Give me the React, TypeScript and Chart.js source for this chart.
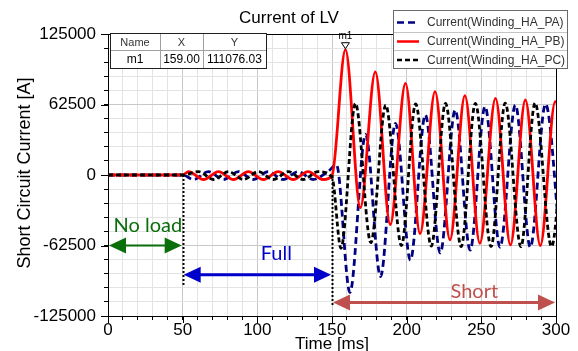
import React, { useEffect, useRef } from 'react';
import { Chart, registerables } from 'chart.js';

Chart.register(...registerables);

// ---- tick labels ----
const xMajorTicks = [0, 50, 100, 150, 200, 250, 300];
const yMajorTicks = [-125000, -62500, 0, 62500, 125000];

// ---- series: Current(Winding_HA_PA) ----
const paTime = [0, 50, 57.3, 67.3, 77.3, 87.3, 97.3, 107.3, 117.3, 127.3, 137.3, 147.3, 153, 162, 172.5, 182.5, 192.5, 202.5, 212.5, 222.5, 232.5, 242.5, 252.5, 262.5, 272.8, 282.8, 293, 303];
const paValue = [0, 0, -4000, 3000, -4000, 3000, -4000, 3000, -4000, 3000, -4000, 3000, 9000, -104000, 36000, -90000, 45800, -75400, 53200, -69100, 57600, -66500, 60600, -64000, 62000, -64000, 63000, -64000];

// ---- series: Current(Winding_HA_PB) ----
const pbTime = [0, 50, 54, 64, 74, 84, 94, 104, 114, 124, 134, 144, 150, 159, 169, 179, 189, 199.2, 209, 219, 229, 239, 249, 259.5, 269.5, 279.5, 289.5, 299.5, 309.5];
const pbValue = [0, 0, 3000, -4000, 3000, -4000, 3000, -4000, 3000, -4000, 3000, -4000, -500, 111076.03, -29000, 91500, -44000, 81300, -52000, 74000, -57500, 70300, -60500, 68000, -62000, 66500, -62500, 65000, -63000];

// ---- series: Current(Winding_HA_PC) ----
const pcTime = [0, 50, 60.7, 70.7, 80.7, 90.7, 100.7, 110.7, 120.7, 130.7, 140.7, 150, 156, 165.7, 176, 186, 196.5, 206, 216.5, 226, 236.5, 246, 256.5, 266, 276.5, 286, 297, 306];
const pcValue = [0, 0, 3000, -4000, 3000, -4000, 3000, -4000, 3000, -4000, 3000, -2000, -65000, 63500, -60000, 62000, -62500, 63000, -63000, 63500, -63500, 63500, -63500, 63800, -63500, 63800, -63500, 63800];

// ---- marker m1 ----
const markerName = 'm1';
const markerX = 159.0;
const markerY = 111076.03;

// ---- phases ----
const phaseNames = ['No load', 'Full', 'Short'];
const phaseStart = [0, 50, 150];
const phaseEnd = [50, 150, 300];
const phaseArrowLevel = [-62500, -88500, -113000];
const phaseLabelX = [26.7, 112.7, 245.3];
const phaseLabelY = [-50500, -75300, -109000];
const phaseDividerX = [50, 150];
const phaseDividerBottom = [-97500, -116000];

const seriesNames = ['Current(Winding_HA_PA)', 'Current(Winding_HA_PB)', 'Current(Winding_HA_PC)'];

const FONT = '"Liberation Sans", Arial, sans-serif';
const seriesColors = ['#000080', '#ff0000', '#000000'];
const seriesDash = [[7, 4], [], [5, 3]];
const phaseColors = ['#0a6e0a', '#0000cc', '#c0504d'];

function dblArrow(ctx: CanvasRenderingContext2D, x1: number, x2: number, yy: number, color: string, lw: number, hl: number, hh: number) {
  ctx.strokeStyle = color;
  ctx.fillStyle = color;
  ctx.lineWidth = lw;
  ctx.setLineDash([]);
  ctx.beginPath();
  ctx.moveTo(x1 + hl - 1, yy);
  ctx.lineTo(x2 - hl + 1, yy);
  ctx.stroke();
  ctx.beginPath();
  ctx.moveTo(x1, yy);
  ctx.lineTo(x1 + hl, yy - hh / 2);
  ctx.lineTo(x1 + hl, yy + hh / 2);
  ctx.closePath();
  ctx.fill();
  ctx.beginPath();
  ctx.moveTo(x2, yy);
  ctx.lineTo(x2 - hl, yy - hh / 2);
  ctx.lineTo(x2 - hl, yy + hh / 2);
  ctx.closePath();
  ctx.fill();
}

const overlay = {
  id: 'overlay',
  afterDraw(chart: any) {
    const ctx: CanvasRenderingContext2D = chart.ctx;
    const a = chart.chartArea;
    const xs = chart.scales.x;
    const ys = chart.scales.y;
    ctx.save();

    // frame
    ctx.strokeStyle = '#000';
    ctx.lineWidth = 1;
    ctx.setLineDash([]);
    ctx.strokeRect(Math.round(a.left) + 0.5, Math.round(a.top) + 0.5, Math.round(a.right - a.left), Math.round(a.bottom - a.top));

    // major ticks
    ctx.beginPath();
    xMajorTicks.forEach((v) => {
      const px = Math.round(xs.getPixelForValue(v)) + 0.5;
      ctx.moveTo(px, a.bottom);
      ctx.lineTo(px, a.bottom + 7);
    });
    yMajorTicks.forEach((v) => {
      const py = Math.round(ys.getPixelForValue(v)) + 0.5;
      ctx.moveTo(a.left, py);
      ctx.lineTo(a.left - 7, py);
    });
    ctx.stroke();

    // phase dividers (dotted)
    ctx.strokeStyle = '#000';
    ctx.lineWidth = 2;
    ctx.setLineDash([2, 2]);
    phaseDividerX.forEach((v, i) => {
      const px = Math.round(xs.getPixelForValue(v)) + 0.5;
      ctx.beginPath();
      ctx.moveTo(px, ys.getPixelForValue(0));
      ctx.lineTo(px, ys.getPixelForValue(phaseDividerBottom[i]));
      ctx.stroke();
    });
    ctx.setLineDash([]);

    // phase arrows and labels
    const lws = [2, 3, 3];
    phaseNames.forEach((name, i) => {
      const x1 = xs.getPixelForValue(phaseStart[i]) + 1;
      const x2 = xs.getPixelForValue(phaseEnd[i]) - 1;
      const yy = ys.getPixelForValue(phaseArrowLevel[i]);
      dblArrow(ctx, x1, x2, yy, phaseColors[i], lws[i], 17, 16);
      ctx.fillStyle = phaseColors[i];
      ctx.font = '20px Lato, "Open Sans", sans-serif';
      ctx.textAlign = 'center';
      ctx.textBaseline = 'alphabetic';
      ctx.fillText(name, xs.getPixelForValue(phaseLabelX[i]), ys.getPixelForValue(phaseLabelY[i]));
    });

    // marker m1
    const mx = xs.getPixelForValue(markerX);
    const my = ys.getPixelForValue(markerY);
    ctx.fillStyle = '#fff';
    ctx.strokeStyle = '#000';
    ctx.lineWidth = 1;
    ctx.beginPath();
    ctx.moveTo(mx, my - 1);
    ctx.lineTo(mx - 4, my - 7);
    ctx.lineTo(mx + 4, my - 7);
    ctx.closePath();
    ctx.fill();
    ctx.stroke();
    ctx.fillStyle = '#000';
    ctx.font = '10px ' + FONT;
    ctx.textAlign = 'center';
    ctx.textBaseline = 'alphabetic';
    ctx.fillText(markerName, mx, my - 11);

    // marker table
    const tx0 = a.left + 2, tx1 = a.left + 52, tx2 = a.left + 95, tx3 = a.left + 158;
    const ty0 = a.top - 1, ty1 = a.top + 16, ty2 = a.top + 34;
    ctx.fillStyle = '#fff';
    ctx.fillRect(tx0, ty0, tx3 - tx0, ty2 - ty0);
    ctx.strokeStyle = '#a0a0a0';
    ctx.beginPath();
    ctx.moveTo(tx0, ty1 + 0.5); ctx.lineTo(tx3, ty1 + 0.5);
    [tx1, tx2].forEach((xx) => { ctx.moveTo(xx + 0.5, ty0); ctx.lineTo(xx + 0.5, ty2); });
    ctx.stroke();
    ctx.strokeStyle = '#202020';
    ctx.strokeRect(tx0 + 0.5, ty0 + 0.5, tx3 - tx0, ty2 - ty0);
    ctx.fillStyle = '#333';
    ctx.font = '11px ' + FONT;
    ctx.textBaseline = 'middle';
    ctx.fillText('Name', (tx0 + tx1) / 2, (ty0 + ty1) / 2 + 1);
    ctx.fillText('X', (tx1 + tx2) / 2, (ty0 + ty1) / 2 + 1);
    ctx.fillText('Y', (tx2 + tx3) / 2, (ty0 + ty1) / 2 + 1);
    ctx.fillStyle = '#000';
    ctx.font = '12px ' + FONT;
    ctx.fillText(markerName, (tx0 + tx1) / 2, (ty1 + ty2) / 2 + 1);
    ctx.fillText(markerX.toFixed(2), (tx1 + tx2) / 2, (ty1 + ty2) / 2 + 1);
    ctx.fillText(markerY.toFixed(2), (tx2 + tx3) / 2, (ty1 + ty2) / 2 + 1);

    // legend
    const lx0 = 393, lx1 = 567;
    const rows = [10, 32, 50, 68];
    ctx.fillStyle = '#fff';
    ctx.fillRect(lx0, rows[0], lx1 - lx0, rows[3] - rows[0]);
    ctx.strokeStyle = '#c4c4c4';
    ctx.lineWidth = 1;
    ctx.beginPath();
    [rows[1], rows[2]].forEach((r) => { ctx.moveTo(lx0, r + 0.5); ctx.lineTo(lx1, r + 0.5); });
    ctx.stroke();
    ctx.strokeStyle = '#6a6a6a';
    ctx.strokeRect(lx0 + 0.5, rows[0] + 0.5, lx1 - lx0, rows[3] - rows[0]);
    seriesNames.forEach((name, i) => {
      const cy = [22.5, 41.5, 60][i];
      ctx.strokeStyle = seriesColors[i];
      ctx.lineWidth = 2.5;
      ctx.setLineDash(seriesDash[i]);
      ctx.beginPath();
      ctx.moveTo(397, cy);
      ctx.lineTo(419, cy);
      ctx.stroke();
      ctx.setLineDash([]);
      ctx.fillStyle = '#333';
      ctx.font = '12px ' + FONT;
      ctx.textAlign = 'left';
      ctx.textBaseline = 'middle';
      ctx.fillText(name, 427, cy + 0.5);
    });

    // titles
    ctx.fillStyle = '#000';
    ctx.textAlign = 'center';
    ctx.textBaseline = 'alphabetic';
    ctx.font = '17px ' + FONT;
    ctx.fillText('Current of LV', 289, 23);
    ctx.fillText('Time [ms]', (a.left + a.right) / 2, 349);
    ctx.save();
    ctx.translate(30, 173);
    ctx.rotate(-Math.PI / 2);
    ctx.font = '18px ' + FONT;
    ctx.fillText('Short Circuit Current [A]', 0, 0);
    ctx.restore();

    ctx.restore();
  },
};

export default function App() {
  const ref = useRef<HTMLCanvasElement | null>(null);
  useEffect(() => {
    if (!ref.current) return;
    const mk = (t: number[], v: number[]) => t.map((tt, i) => ({ x: tt, y: v[i] }));
    const seriesData = [mk(paTime, paValue), mk(pbTime, pbValue), mk(pcTime, pcValue)];
    const gridColor = (majors: number[]) => (c: any) =>
      c.tick && majors.includes(c.tick.value) ? '#c8c8c8' : '#e3e3e3';
    const chart = new Chart(ref.current, {
      type: 'line',
      data: {
        datasets: seriesNames.map((name, i) => ({
          label: name,
          data: seriesData[i],
          borderColor: seriesColors[i],
          backgroundColor: seriesColors[i],
          borderWidth: 2.8,
          borderDash: seriesDash[i],
          pointRadius: 0,
          fill: false,
          cubicInterpolationMode: 'monotone' as const,
          order: 3 - i,
        })),
      },
      options: {
        responsive: false,
        animation: false,
        events: [],
        layout: { padding: { top: 34, right: 22, left: 0, bottom: 0 } },
        plugins: {
          legend: { display: false },
          title: { display: false },
          tooltip: { enabled: false },
        },
        scales: {
          x: {
            type: 'linear',
            min: 0,
            max: 300,
            afterFit: (s: any) => { s.height = 35; },
            ticks: {
              stepSize: 10,
              autoSkip: false,
              maxRotation: 0,
              padding: 0,
              color: '#000',
              font: { family: FONT, size: 17 },
              callback: (v: any) => (xMajorTicks.includes(Number(v)) ? String(v) : ''),
            },
            grid: { color: gridColor(xMajorTicks), tickLength: 4, tickColor: '#000', lineWidth: 1 },
            border: { color: '#000', width: 1 },
          },
          y: {
            type: 'linear',
            min: -125000,
            max: 125000,
            afterFit: (s: any) => { s.width = 108; },
            ticks: {
              stepSize: 12500,
              autoSkip: false,
              padding: 8,
              color: '#000',
              font: { family: FONT, size: 17 },
              callback: (v: any) => (yMajorTicks.includes(Number(v)) ? String(v) : ''),
            },
            grid: { color: gridColor(yMajorTicks), tickLength: 4, tickColor: '#000', lineWidth: 1 },
            border: { color: '#000', width: 1 },
          },
        },
      },
      plugins: [overlay],
    } as any);
    return () => chart.destroy();
  }, []);
  return (
    <div style={{ position: 'absolute', left: 0, top: 0, width: 578, height: 351, background: '#fff' }}>
      <canvas ref={ref} width={578} height={351} style={{ display: 'block' }} />
    </div>
  );
}
